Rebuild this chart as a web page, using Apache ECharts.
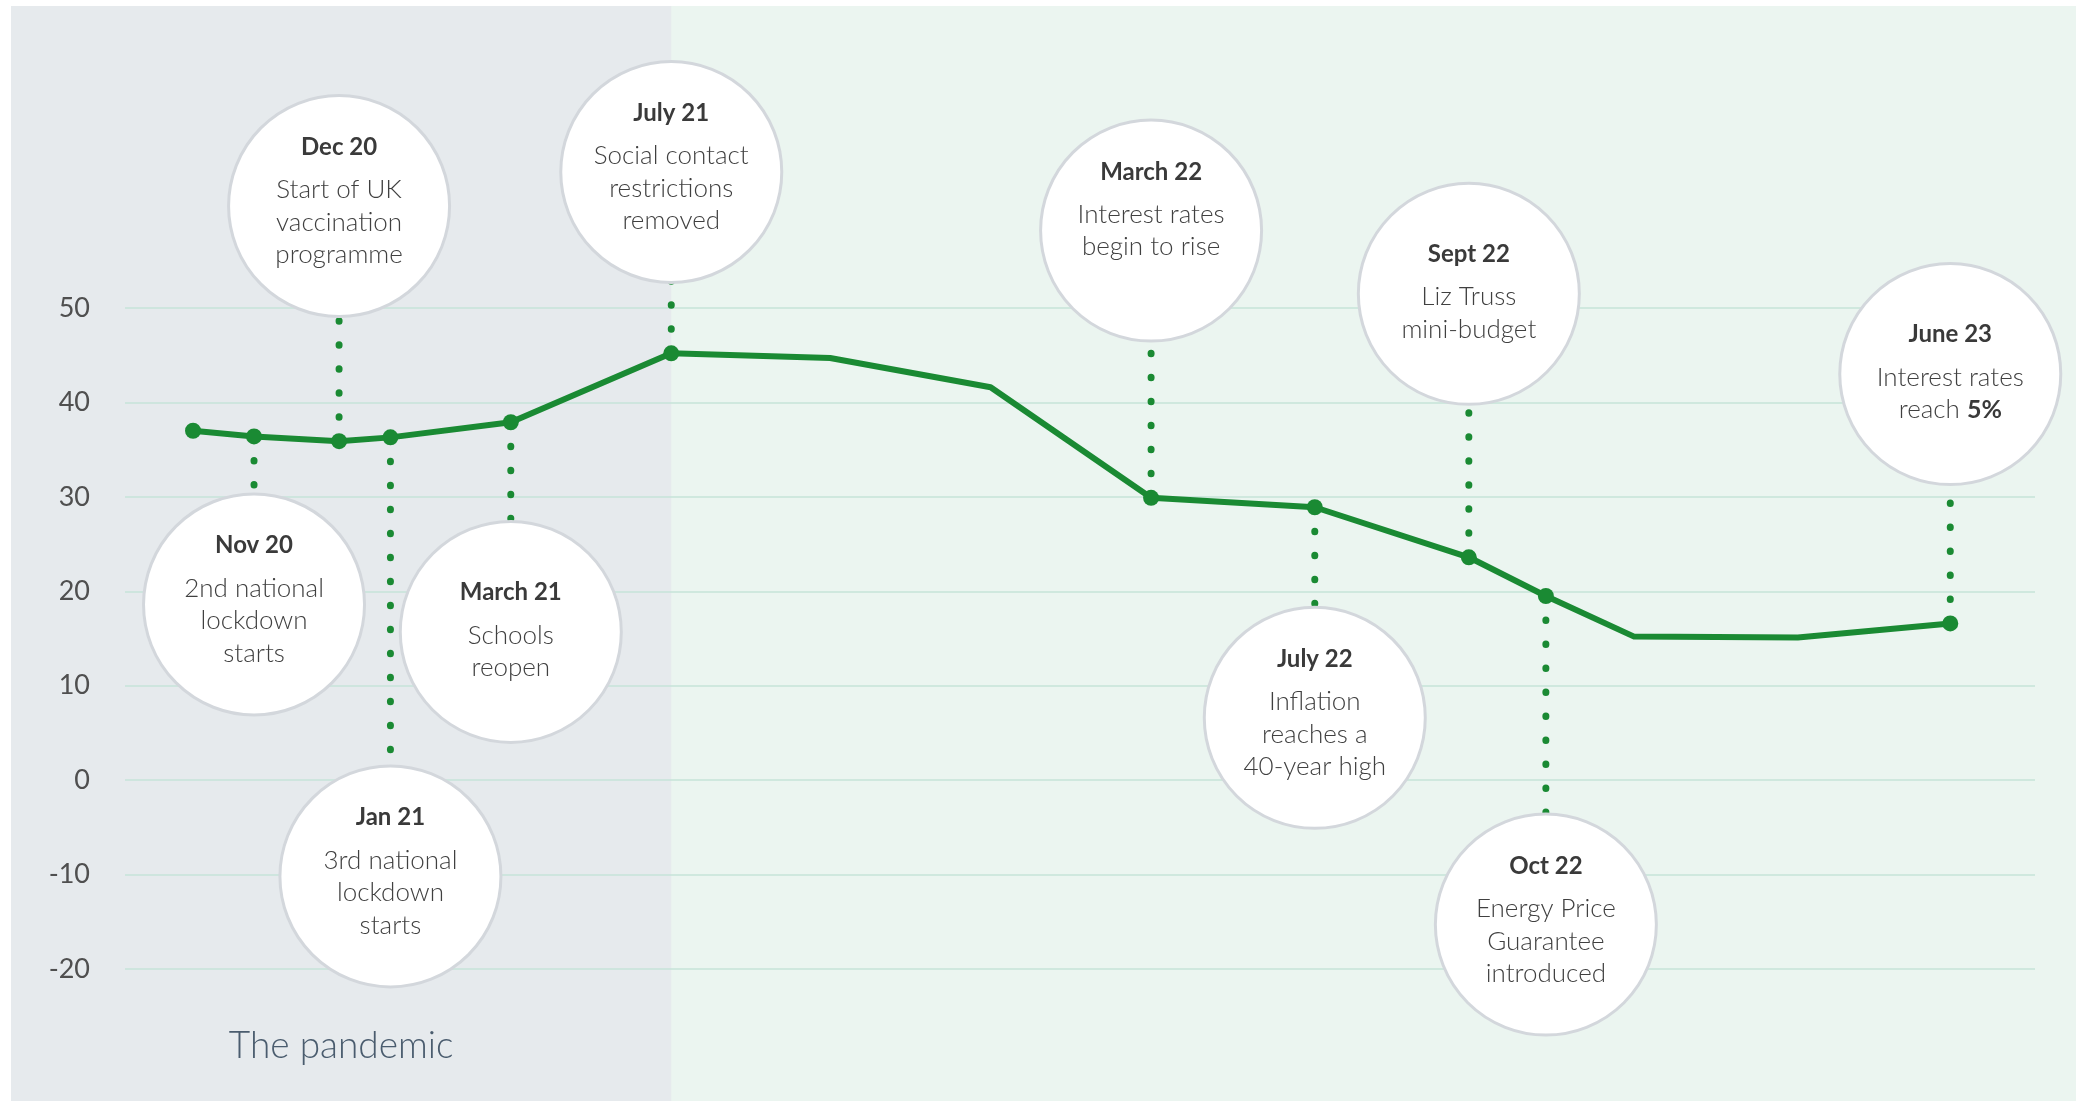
<!DOCTYPE html>
<html><head><meta charset="utf-8">
<script src="https://cdn.jsdelivr.net/npm/echarts@6/dist/echarts.min.js"></script>
<style>html,body{margin:0;padding:0;background:#fff;}#c{width:2085px;height:1101px;}</style>
</head><body><div id="c"></div>
<script>
// ---- data ----
const pointX = [0, 0.38, 0.91, 1.23, 1.98, 2.98, 3.97, 4.97, 5.97, 6.99, 7.95, 8.43, 8.98, 10.0, 10.95];
const pointY = [37.0, 36.4, 35.9, 36.3, 37.9, 45.2, 44.7, 41.6, 29.9, 28.9, 23.6, 19.5, 15.2, 15.1, 16.6];
const markedIdx = [0, 1, 2, 3, 4, 5, 8, 9, 10, 11, 14];
const eventDates = ['Nov 20', 'Dec 20', 'Jan 21', 'March 21', 'July 21', 'March 22', 'July 22', 'Sept 22', 'Oct 22', 'June 23'];
const eventLines = [
  ['2nd national', 'lockdown', 'starts'],
  ['Start of UK', 'vaccination', 'programme'],
  ['3rd national', 'lockdown', 'starts'],
  ['Schools', 'reopen'],
  ['Social contact', 'restrictions', 'removed'],
  ['Interest rates', 'begin to rise', ' '],
  ['Inflation', 'reaches a', '40-year high'],
  ['Liz Truss', 'mini-budget'],
  ['Energy Price', 'Guarantee', 'introduced'],
  ['Interest rates', 'reach {b|5%}']
];
const eventPointIdx = [1, 2, 3, 4, 5, 8, 9, 10, 11, 14];
const eventCircleY = [18.6, 60.8, -10.2, 15.7, 64.4, 58.2, 6.6, 51.5, -15.3, 43.0];
const yMin = -20, yMax = 50, yStep = 10;
const xMin = -0.424, xMax = 11.478;
const pandemicEndIdx = 5;
const regionLabel = 'The pandemic';

const GREEN = '#1a8a33';
const chart = echarts.init(document.getElementById('c'), null, {renderer: 'canvas'});

const series = [];
// dotted connectors
eventPointIdx.forEach((pi, i) => {
  series.push({
    type: 'line', silent: true, clip: false, symbol: 'none', z: 1,
    data: [[pointX[pi], pointY[pi]], [pointX[pi], eventCircleY[i]]],
    lineStyle: {color: GREEN, width: 7, type: [0.5, 23.5], cap: 'round', opacity: 1}
  });
});
// main line
series.push({
  type: 'line', clip: false, symbol: 'none', z: 3,
  data: pointX.map((x, i) => [x, pointY[i]]),
  lineStyle: {color: GREEN, width: 6, join: 'round', opacity: 1}
});
// markers
series.push({
  type: 'scatter', clip: false, z: 4, symbolSize: 16,
  itemStyle: {color: GREEN, opacity: 1},
  data: markedIdx.map(i => [pointX[i], pointY[i]])
});
// annotation circles
series.push({
  type: 'scatter', clip: false, z: 5, symbol: 'circle', symbolSize: 221,
  itemStyle: {color: '#ffffff', borderColor: '#d3d7dc', borderWidth: 3, opacity: 1},
  data: eventPointIdx.map((pi, i) => ({
    value: [pointX[pi], eventCircleY[i]],
    label: {offset: [0, eventLines[i].length === 2 ? -7 : -10]}
  })),
  label: {
    show: true, position: 'inside',
    formatter: p => {
      const i = p.dataIndex;
      return '{d|' + eventDates[i] + '}\n' + eventLines[i].map(l => l.indexOf('{b|') >= 0 ? '{t|' + l.replace(' {b|', ' }{b|') : '{t|' + l + '}').join('\n');
    },
    rich: {
      d: {fontFamily: 'Lato', fontWeight: 'bold', fontSize: 24, color: '#3a3a3a', lineHeight: 53, align: 'center'},
      t: {fontFamily: 'Lato', fontWeight: 300, fontSize: 26, color: '#404040', lineHeight: 32.5, align: 'center'},
      b: {fontFamily: 'Lato', fontWeight: 'bold', fontSize: 25, color: '#3a3a3a', lineHeight: 32.5}
    }
  }
});

chart.setOption({
  animation: false,
  grid: {left: 125, right: 50, top: 308, bottom: 132},
  xAxis: {type: 'value', min: xMin, max: xMax, show: false},
  yAxis: {
    type: 'value', min: yMin, max: yMax, interval: yStep,
    axisLine: {show: false}, axisTick: {show: false},
    axisLabel: {margin: 35, fontFamily: 'Lato', fontSize: 27, color: '#4f4f4f'},
    splitLine: {lineStyle: {color: '#c6e3d8', width: 1.5}}
  },
  series: series
});

const bx = chart.convertToPixel({xAxisIndex: 0, yAxisIndex: 0}, [pointX[pandemicEndIdx], 0])[0];
chart.setOption({
  graphic: [
    {type: 'rect', z: -10, silent: true, shape: {x: 11, y: 6, width: 2076 - 11, height: 1101 - 6}, style: {fill: '#ebf5f0'}},
    {type: 'rect', z: -9, silent: true, shape: {x: 11, y: 6, width: bx - 11, height: 1101 - 6}, style: {fill: '#e6eaed'}},
    {type: 'text', z: -8, silent: true, x: (11 + bx) / 2, y: 1046,
      style: {text: regionLabel, fontFamily: 'Lato', fontWeight: 300, fontSize: 37, fill: '#4a5c6e', align: 'center', verticalAlign: 'middle'}}
  ]
});
</script></body></html>
